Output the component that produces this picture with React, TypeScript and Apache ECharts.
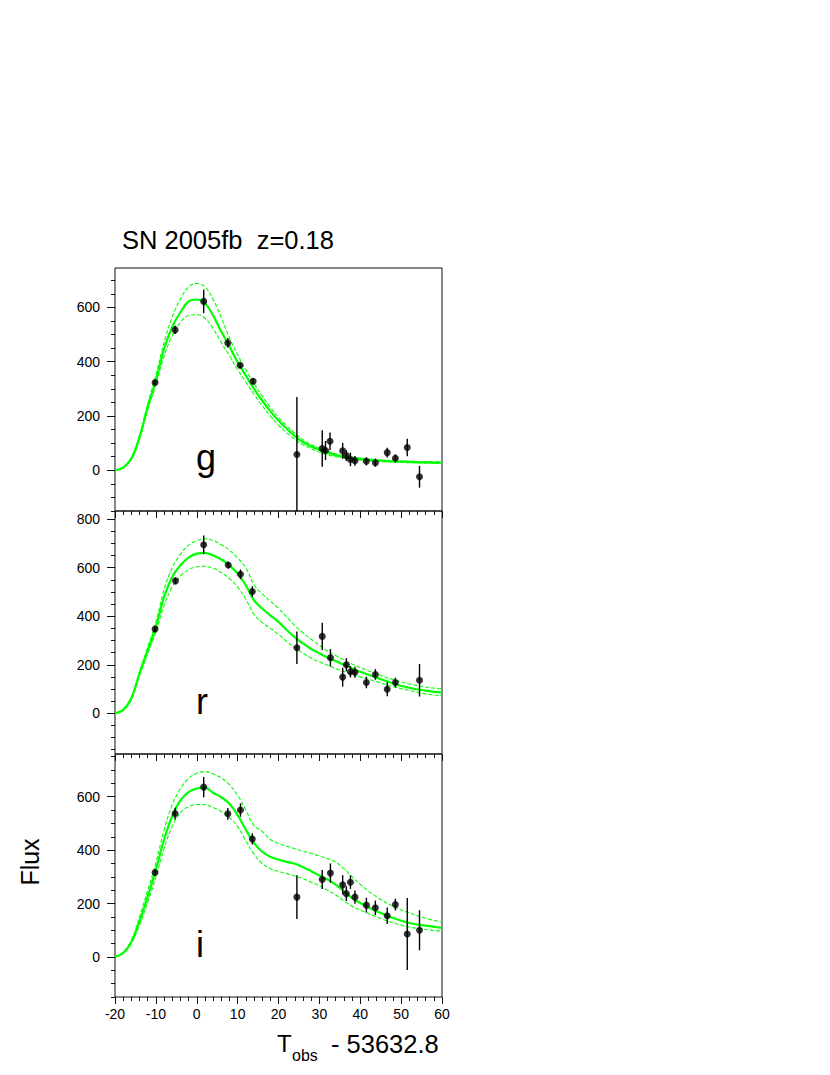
import React, { useEffect, useRef } from "react";
import * as echarts from "echarts";

// Model curve sampling times (days)
const modelT = [-20, -18, -16, -14, -12, -10, -8, -6, -4, -2, 0, 2, 4, 6, 8, 10, 12, 14, 16, 18, 20, 22, 24, 26, 28, 30, 32, 34, 36, 38, 40, 44, 48, 52, 56, 60];

// g band
const gModel = [0, 10, 43, 122, 233, 331, 447, 528, 582, 622, 629, 615, 570, 511, 456, 398, 349, 300, 257, 218, 183, 153, 126, 104, 88, 76, 65, 56, 49, 44, 41, 36, 33, 31, 29, 28];
const gUpper = [0, 11, 46, 128, 245, 350, 470, 565, 630, 675, 688, 676, 630, 562, 488, 425, 370, 320, 274, 232, 195, 164, 136, 113, 95, 81, 70, 61, 54, 49, 45, 39, 35, 33, 32, 31];
const gLower = [0, 9, 40, 115, 222, 315, 420, 495, 545, 570, 573, 560, 522, 470, 422, 370, 325, 280, 238, 200, 166, 138, 114, 94, 79, 67, 57, 50, 45, 41, 38, 33, 30, 28, 27, 26];
const gT = [-10.2, -5.3, 1.7, 7.6, 10.6, 13.8, 24.5, 30.7, 31.5, 32.6, 35.7, 36.6, 37.6, 38.7, 41.5, 43.7, 46.6, 48.6, 51.5, 54.5];
const gF = [323, 517, 622, 469, 387, 328, 58, 80, 73, 107, 72, 54, 40, 35, 33, 28, 65, 44, 84, -24];
const gE = [10, 15, 43, 18, 10, 12, 212, 67, 35, 32, 29, 20, 25, 18, 15, 15, 18, 15, 32, 40];

// r band
const rModel = [0, 14, 62, 165, 260, 356, 480, 562, 610, 642, 658, 661, 651, 634, 610, 576, 528, 466, 432, 404, 377, 343, 313, 288, 265, 247, 230, 215, 200, 185, 171, 147, 123, 105, 93, 85];
const rUpper = [0, 15, 64, 170, 272, 375, 510, 600, 655, 693, 712, 719, 712, 695, 672, 640, 600, 530, 492, 462, 432, 398, 362, 332, 305, 280, 257, 238, 220, 203, 188, 162, 139, 121, 108, 100];
const rLower = [0, 12, 55, 155, 245, 335, 445, 520, 565, 592, 604, 606, 598, 580, 555, 520, 470, 408, 375, 350, 325, 296, 270, 248, 228, 212, 198, 184, 172, 160, 150, 130, 110, 94, 80, 72];
const rT = [-10.2, -5.2, 1.7, 7.7, 10.7, 13.6, 24.5, 30.7, 32.7, 35.7, 36.6, 37.6, 38.7, 41.5, 43.7, 46.6, 48.6, 54.5];
const rF = [347, 546, 695, 611, 573, 502, 270, 317, 229, 149, 200, 171, 169, 127, 160, 99, 127, 136];
const rE = [12, 14, 38, 14, 20, 22, 67, 56, 36, 39, 27, 23, 23, 24, 22, 29, 20, 67];

// i band
const iModel = [0, 15, 56, 134, 227, 327, 440, 527, 586, 617, 631, 634, 615, 598, 574, 531, 477, 427, 394, 375, 365, 356, 349, 336, 321, 305, 290, 271, 246, 221, 202, 171, 146, 127, 117, 109];
const iUpper = [0, 17, 62, 150, 250, 352, 475, 570, 630, 668, 688, 694, 685, 670, 645, 605, 550, 492, 470, 440, 425, 415, 405, 396, 388, 378, 368, 355, 330, 300, 272, 225, 190, 165, 145, 130];
const iLower = [0, 13, 50, 120, 205, 300, 405, 490, 540, 563, 571, 570, 560, 545, 522, 488, 435, 385, 350, 330, 320, 312, 303, 293, 280, 266, 250, 232, 210, 190, 176, 150, 128, 112, 103, 96];
const iT = [-10.2, -5.3, 1.7, 7.6, 10.7, 13.6, 24.5, 30.7, 32.7, 35.7, 36.6, 37.6, 38.7, 41.5, 43.7, 46.6, 48.6, 51.5, 54.5];
const iF = [316, 537, 636, 536, 550, 442, 224, 290, 314, 270, 237, 280, 224, 194, 184, 154, 196, 86, 100];
const iE = [12, 22, 38, 22, 25, 21, 82, 36, 36, 36, 28, 25, 25, 28, 27, 31, 22, 135, 75];

const bandNames = ["g", "r", "i"];
const yMin = [-150, -168, -150];
const yMax = [745, 834, 760];
const yMajorTicks = [
  [0, 200, 400, 600],
  [0, 200, 400, 600, 800],
  [0, 200, 400, 600],
];
const yMinorTicks = [
  [-150, -100, -50, 0, 50, 100, 150, 200, 250, 300, 350, 400, 450, 500, 550, 600, 650, 700],
  [-150, -100, -50, 0, 50, 100, 150, 200, 250, 300, 350, 400, 450, 500, 550, 600, 650, 700, 750, 800],
  [-150, -100, -50, 0, 50, 100, 150, 200, 250, 300, 350, 400, 450, 500, 550, 600, 650, 700, 750],
];

const FONT = "'Liberation Sans', Arial, Helvetica, sans-serif";
const GREEN = "#00ff00";

const gridTops = [268, 511, 754];
const gridH = 243;
const gridLeft = 115;
const gridW = 327;

export default function App() {
  const ref = useRef<HTMLDivElement>(null);
  useEffect(() => {
    if (!ref.current) return;
    const chart = echarts.init(ref.current, null, { renderer: "svg" });
    const models = [gModel, rModel, iModel];
    const uppers = [gUpper, rUpper, iUpper];
    const lowers = [gLower, rLower, iLower];
    const Ts = [gT, rT, iT];
    const Fs = [gF, rF, iF];
    const Es = [gE, rE, iE];

    const grids: any[] = [];
    const xAxes: any[] = [];
    const yAxes: any[] = [];
    const series: any[] = [];

    for (let p = 0; p < 3; p++) {
      grids.push({
        left: gridLeft,
        top: gridTops[p],
        width: gridW,
        height: gridH,
        show: true,
        borderColor: "#111",
        borderWidth: 1,
        backgroundColor: "transparent",
      });
      xAxes.push({
        type: "value",
        gridIndex: p,
        min: -20,
        max: 60,
        interval: 10,
        position: "bottom",
        axisLine: { show: false, onZero: false },
        axisTick: { show: true, length: 7, inside: false, lineStyle: { color: "#111", width: 1 } },
        minorTick: { show: true, splitNumber: 5, length: 4, lineStyle: { color: "#111", width: 1 } },
        splitLine: { show: false },
        axisLabel: {
          show: p === 2,
          fontSize: 14,
          fontFamily: FONT,
          color: "#000",
          margin: 10,
        },
      });
      // minor y ticks
      yAxes.push({
        type: "value",
        gridIndex: p,
        min: yMin[p],
        max: yMax[p],
        position: "left",
        axisLine: { show: false, onZero: false },
        axisTick: { show: true, length: 4, customValues: yMinorTicks[p], lineStyle: { color: "#111", width: 1 } },
        axisLabel: { show: false },
        splitLine: { show: false },
      });
      // major y ticks + labels
      yAxes.push({
        type: "value",
        gridIndex: p,
        min: yMin[p],
        max: yMax[p],
        position: "left",
        axisLine: { show: false, onZero: false },
        axisTick: { show: true, length: 8, customValues: yMajorTicks[p], lineStyle: { color: "#111", width: 1 } },
        axisLabel: {
          show: true,
          customValues: yMajorTicks[p],
          fontSize: 14,
          fontFamily: FONT,
          color: "#000",
          margin: 15,
        },
        splitLine: { show: false },
      });
      const yIdx = p * 2 + 1;
      const mk = (arr: number[]) => modelT.map((t, k) => [t, arr[k]]);
      series.push({
        type: "line",
        xAxisIndex: p,
        yAxisIndex: yIdx,
        data: mk(uppers[p]),
        showSymbol: false,
        smooth: 0.4,
        lineStyle: { color: GREEN, width: 1.1, type: [4, 2] },
        z: 2,
      });
      series.push({
        type: "line",
        xAxisIndex: p,
        yAxisIndex: yIdx,
        data: mk(lowers[p]),
        showSymbol: false,
        smooth: 0.4,
        lineStyle: { color: GREEN, width: 1.1, type: [4, 2] },
        z: 2,
      });
      series.push({
        type: "line",
        xAxisIndex: p,
        yAxisIndex: yIdx,
        data: mk(models[p]),
        showSymbol: false,
        smooth: 0.4,
        lineStyle: { color: GREEN, width: 2.2 },
        z: 3,
      });
      series.push({
        type: "custom",
        xAxisIndex: p,
        yAxisIndex: yIdx,
        data: Ts[p].map((t, k) => [t, Fs[p][k], Es[p][k]]),
        encode: { x: 0, y: 1 },
        z: 4,
        renderItem: (params: any, api: any) => {
          const x = api.value(0);
          const y = api.value(1);
          const e = api.value(2);
          const a = api.coord([x, y - e]);
          const b = api.coord([x, y + e]);
          const cs = params.coordSys;
          const clamp = (v: number) => Math.max(cs.y, Math.min(cs.y + cs.height, v));
          return {
            type: "line",
            shape: { x1: a[0], y1: clamp(a[1]), x2: b[0], y2: clamp(b[1]) },
            style: { stroke: "#000", lineWidth: 1.4 },
          };
        },
      });
      series.push({
        type: "scatter",
        xAxisIndex: p,
        yAxisIndex: yIdx,
        data: Ts[p].map((t, k) => [t, Fs[p][k]]),
        symbol: "circle",
        symbolSize: 7,
        itemStyle: { color: "#000" },
        z: 5,
      });
    }

    const letterCenters = [457.5, 701.5, 944.5];
    const graphics: any[] = [
      {
        type: "text",
        x: 122,
        y: 240,
        style: {
          text: "SN 2005fb\u00a0 z=0.18",
          font: `25.5px ${FONT}`,
          fill: "#000",
          align: "left",
          verticalAlign: "middle",
        },
      },
      {
        type: "text",
        x: 30,
        y: 862,
        rotation: Math.PI / 2,
        style: {
          text: "Flux",
          font: `25px ${FONT}`,
          fill: "#000",
          align: "center",
          verticalAlign: "middle",
        },
      },
      {
        type: "text",
        x: 277,
        y: 1043.5,
        style: { text: "T", font: `24px ${FONT}`, fill: "#000", align: "left", verticalAlign: "middle" },
      },
      {
        type: "text",
        x: 292,
        y: 1055,
        style: { text: "obs", font: `16px ${FONT}`, fill: "#000", align: "left", verticalAlign: "middle" },
      },
      {
        type: "text",
        x: 331,
        y: 1043.5,
        style: { text: "- 53632.8", font: `25.5px ${FONT}`, fill: "#000", align: "left", verticalAlign: "middle" },
      },
    ];
    bandNames.forEach((b, k) => {
      graphics.push({
        type: "text",
        x: 196,
        y: letterCenters[k],
        style: { text: b, font: `36px ${FONT}`, fill: "#000", align: "left", verticalAlign: "middle" },
      });
    });

    chart.setOption({
      animation: false,
      backgroundColor: "#fff",
      grid: grids,
      xAxis: xAxes,
      yAxis: yAxes,
      series,
      graphic: graphics,
    });
    return () => chart.dispose();
  }, []);
  return (
    <div
      ref={ref}
      style={{ position: "absolute", left: 0, top: 0, width: 830, height: 1075 }}
    />
  );
}
